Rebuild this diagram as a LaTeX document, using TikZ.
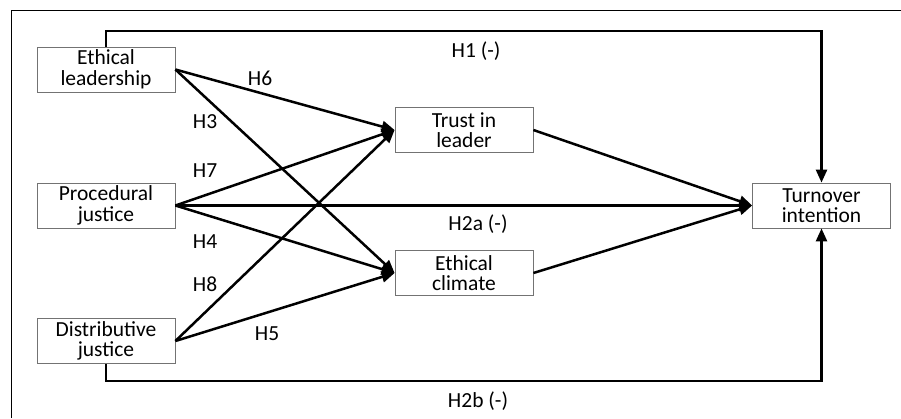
\documentclass[tikz,border=0pt]{standalone}
\usepackage{fontspec}
\setmainfont{Carlito}
\usetikzlibrary{arrows.meta}
\tikzset{
  var/.style={draw=black!55, line width=0.8pt, minimum width=138pt, minimum height=45pt,
    align=center, inner sep=0pt, font=\fontsize{21.5}{20.5}\selectfont},
  link/.style={line width=2.5pt, -{Triangle[length=13pt,width=11pt]}},
  hlab/.style={font=\fontsize{21.5}{20.5}\selectfont}
}
\begin{document}
\begin{tikzpicture}[x=1pt,y=-1pt]
\useasboundingbox (0,0) rectangle (901,418);
\draw[line width=0.8pt] (11,418) -- (11,10) -- (901,10);

% variables
\node[var] (el) at (106,69.5) {Ethical\\leadership};
\node[var] (pj) at (106,205.5) {Procedural\\justice};
\node[var] (dj) at (106,341) {Distributive\\justice};
\node[var] (tl) at (464,130) {Trust in\\leader};
\node[var] (ec) at (464,273) {Ethical\\climate};
\node[var] (ti) at (821.5,205.5) {Turnover\\intention};

% paths
\draw[link] (el.east) -- (tl.west);
\draw[link] (el.east) -- (ec.west);
\draw[link] (pj.east) -- (tl.west);
\draw[link] (pj.east) -- (ti.west);
\draw[link] (pj.east) -- (ec.west);
\draw[link] (dj.east) -- (tl.west);
\draw[link] (dj.east) -- (ec.west);
\draw[link] (tl.east) -- (ti.west);
\draw[link] (ec.east) -- (ti.west);
\draw[link] (el.north) -- (el.north |- 0,31) -| (ti.north);
\draw[link] (dj.south) -- (dj.south |- 0,381) -| (ti.south);

% labels
\node[hlab] (h1) at (476,51) {H1 (-)};
\node[hlab] (h6) at (260,78) {H6};
\node[hlab] (h3) at (205,122) {H3};
\node[hlab] (h7) at (205,171) {H7};
\node[hlab] (h2a) at (478,224) {H2a (-)};
\node[hlab] (h4) at (205,242) {H4};
\node[hlab] (h8) at (205,284) {H8};
\node[hlab] (h5) at (267,334) {H5};
\node[hlab] (h2b) at (478,401) {H2b (-)};
\end{tikzpicture}
\end{document}
